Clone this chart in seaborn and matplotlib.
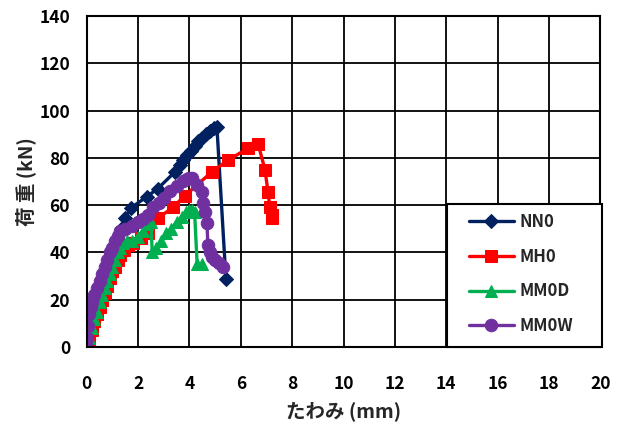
import matplotlib
matplotlib.use("Agg")
import matplotlib.pyplot as plt
from matplotlib.patches import Rectangle
import seaborn as sns
import pandas as pd

# ---- data ----
nn0_x = [0, 0.05, 0.1, 0.2, 0.4, 0.6, 0.8, 1.0, 1.2, 1.35, 1.5, 1.72, 2.33, 2.77, 3.43, 3.62, 3.75, 3.9,
         4.05, 4.2, 4.35, 4.5, 4.65, 4.8, 4.95, 5.07, 5.42]
nn0_y = [0, 6, 11, 16, 23, 29, 35, 40, 45, 50, 54.5, 58.8, 63.5, 67, 74, 77, 79, 81,
         83, 85, 87, 88.5, 90, 91.5, 92.5, 93, 28.8]

mh0_x = [0, 0.1, 0.2, 0.3, 0.4, 0.5, 0.6, 0.7, 0.8, 0.9, 1.0, 1.1, 1.2, 1.3, 1.45, 1.6, 1.8, 2.1, 2.4,
         2.78, 3.35, 3.82, 4.87, 5.5, 6.28, 6.67, 6.94, 7.06, 7.13, 7.2, 7.23]
mh0_y = [0, 3, 7, 11, 14, 17, 20, 23, 26, 29, 32, 34, 37, 39, 41, 43, 44, 46, 48,
         54.5, 59, 64, 74, 79, 84, 86, 75, 65.6, 59, 56, 54.5]

mm0d_x = [0, 0.1, 0.2, 0.3, 0.4, 0.5, 0.6, 0.7, 0.8, 0.9, 1.0, 1.1, 1.2, 1.3, 1.4, 1.55, 1.75, 2.0, 2.2,
          2.35, 2.5, 2.55, 2.7, 2.9, 3.1, 3.3, 3.5, 3.7, 3.85, 4.0, 4.1, 4.2, 4.3, 4.5]
mm0d_y = [0, 4, 8, 12, 15, 19, 22, 25, 28, 31, 34, 37, 40, 42, 44, 45, 45, 46.5, 49,
          52, 53, 40, 42, 45, 48, 50, 53, 55, 57, 58, 58, 57, 35, 35]

mm0w_x = [0, 0.02, 0.05, 0.1, 0.15, 0.2, 0.3, 0.4, 0.5, 0.6, 0.7, 0.8, 0.9, 1.0, 1.1, 1.2, 1.3, 1.5,
          1.75, 2.0, 2.2, 2.4, 2.6, 2.8, 3.0, 3.24, 3.5, 3.74, 3.9, 4.0, 4.1, 4.3, 4.48, 4.52, 4.6,
          4.68, 4.72, 4.8, 4.87, 5.0, 5.15, 5.3]
mm0w_y = [0, 4, 9, 14, 17, 19, 22, 25, 28, 31, 34, 37, 40, 42, 45, 47, 49, 50,
          51, 53, 54, 56, 59, 61, 63, 66, 68, 70, 71, 71.5, 71.5, 68.5, 65.5, 61, 57,
          52.5, 43, 40, 38, 37, 35.5, 34]

series_names = ["NN0", "MH0", "MM0D", "MM0W"]
x_ticks = [0, 2, 4, 6, 8, 10, 12, 14, 16, 18, 20]
y_ticks = [0, 20, 40, 60, 80, 100, 120, 140]

frames = []
for name, xs, ys in zip(series_names, [nn0_x, mh0_x, mm0d_x, mm0w_x], [nn0_y, mh0_y, mm0d_y, mm0w_y]):
    frames.append(pd.DataFrame({"x": xs, "y": ys, "series": name, "idx": range(len(xs))}))
df = pd.concat(frames, ignore_index=True)

sns.set_theme(style="white")
plt.rcParams["font.family"] = ["Noto Sans CJK JP", "DejaVu Sans"]
plt.rcParams["font.weight"] = "bold"

colors = {"NN0": "#002060", "MH0": "#FF0000", "MM0D": "#00B050", "MM0W": "#7030A0"}
markers = {"NN0": "D", "MH0": "s", "MM0D": "^", "MM0W": "o"}
msize = {"NN0": 7, "MH0": 8.5, "MM0D": 9, "MM0W": 9}

fig = plt.figure(figsize=(6.24, 4.30), dpi=100)
ax = fig.add_axes([0.139, 0.193, 0.823, 0.770])

for name in series_names:
    sub = df[df["series"] == name]
    sns.lineplot(data=sub, x="x", y="y", sort=False, estimator=None, ax=ax,
                 color=colors[name], marker=markers[name], markersize=msize[name],
                 markeredgecolor=colors[name], linewidth=2.4, label=name)

ax.set_xlim(0, 20)
ax.set_ylim(0, 140)
ax.set_xticks(x_ticks)
ax.set_yticks(y_ticks)
ax.set_xticklabels([str(t) for t in x_ticks], fontsize=12.5, fontweight="bold")
ax.set_yticklabels([str(t) for t in y_ticks], fontsize=12.5, fontweight="bold")
ax.tick_params(axis="x", length=0, pad=20, colors="black")
ax.tick_params(axis="y", length=0, pad=12, colors="black")
ax.grid(True, color="black", linewidth=1.3)
ax.set_axisbelow(True)
for sp in ax.spines.values():
    sp.set_color("black")
    sp.set_linewidth(1.5)

ax.set_xlabel("たわみ (mm)", fontsize=14, fontweight="bold", labelpad=6)
ax.set_ylabel("荷 重 (kN)", fontsize=14, fontweight="bold", labelpad=2)

# legend box (white, black border) drawn as a patch, legend items on top
box = Rectangle((0.702, 0.0), 0.302, 0.432, transform=ax.transAxes, facecolor="white",
                edgecolor="black", linewidth=1.5, zorder=4, clip_on=False)
ax.add_patch(box)

leg = ax.legend(loc="upper left", bbox_to_anchor=(0.726, 0.432),
                frameon=False, fontsize=12, handletextpad=0.35,
                handlelength=2.7, labelspacing=1.0, borderpad=0.55, borderaxespad=0)
leg.set_zorder(5)
for t in leg.get_texts():
    t.set_fontweight("bold")

fig.savefig("out.png", dpi=100)
